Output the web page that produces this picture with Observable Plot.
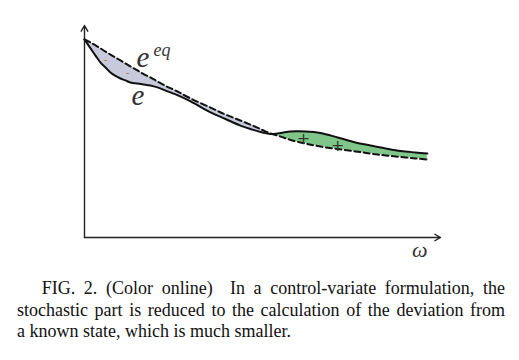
<!DOCTYPE html>
<html><head><meta charset="utf-8">
<script src="https://cdn.jsdelivr.net/npm/d3@7"></script>
<script src="https://cdn.jsdelivr.net/npm/@observablehq/plot@0.6"></script>
<style>
html,body{margin:0;padding:0;background:#fff;}
#wrap{position:relative;width:519px;height:360px;overflow:hidden;}
#chart svg{display:block;}
#cap{position:absolute;left:17px;top:278px;width:488px;font-family:"Liberation Serif","Times New Roman",serif;font-size:18px;line-height:21.7px;color:#111;}
#cap div.j{text-align:justify;text-align-last:justify;white-space:nowrap;}
#cap div.l{text-align:left;white-space:nowrap;}
</style></head><body>
<div id="wrap"><div id="chart"></div>
<div id="cap">
<div class="j" style="text-indent:24.7px;white-space:normal;">FIG. 2. (Color online)&nbsp; In a control-variate formulation, the</div>
<div class="j" style="white-space:normal;">stochastic part is reduced to the calculation of the deviation from</div>
<div class="l">a known state, which is much smaller.</div>
</div></div>
<script>
// frequency axis (arbitrary units)
const omega = [0, 0.17, 0.31, 0.45, 0.59, 0.73, 0.87, 1.01, 1.15, 1.29, 1.49, 1.66, 1.85, 2.05, 2.28, 2.56, 2.98, 3.54, 3.96, 4.38, 4.72, 5.00, 5.22, 5.51, 5.79, 6.21, 6.63, 7.11, 7.61, 8.03, 8.46, 8.88, 9.30, 9.63];
// equilibrium (known state), dashed
const eEq = [9.34, 9.20, 9.06, 8.92, 8.77, 8.63, 8.49, 8.35, 8.21, 8.07, 7.88, 7.71, 7.55, 7.36, 7.15, 6.93, 6.56, 6.13, 5.80, 5.52, 5.28, 5.07, 4.91, 4.76, 4.60, 4.43, 4.29, 4.17, 4.06, 3.96, 3.87, 3.80, 3.73, 3.68];
// actual state, solid
const eVal = [9.34, 8.92, 8.58, 8.25, 8.02, 7.78, 7.62, 7.50, 7.41, 7.31, 7.26, 7.22, 7.17, 7.08, 6.93, 6.75, 6.42, 5.90, 5.59, 5.28, 5.09, 4.95, 4.88, 4.93, 5.00, 5.00, 4.93, 4.72, 4.48, 4.34, 4.20, 4.08, 4.01, 3.96];
// sign glyphs inside the deviation regions
const minusMarks = [{x: 0.59, y: 8.35}, {x: 1.21, y: 7.75}];
const plusMarks = [{x: 6.15, y: 4.67}, {x: 7.11, y: 4.34}];
// axis extents
const xDomain = [0, 10];
const yDomain = [0, 10];

const data = omega.map((w, i) => ({w, eq: eEq[i], e: eVal[i]}));
const axes = [
  {x1: xDomain[0], y1: yDomain[0], x2: xDomain[1], y2: yDomain[0]},
  {x1: xDomain[0], y1: yDomain[0], x2: xDomain[0], y2: yDomain[1]}
];
const serif = "Liberation Serif, Times New Roman, serif";

const chart = Plot.plot({
  width: 519, height: 270,
  marginLeft: 84, marginRight: 79, marginTop: 25, marginBottom: 33,
  x: {domain: xDomain, axis: null},
  y: {domain: yDomain, axis: null},
  marks: [
    Plot.areaY(data, {x: "w", y1: "eq", y2: d => Math.min(d.e, d.eq), fill: "#c9c9dc", curve: "catmull-rom"}),
    Plot.areaY(data, {x: "w", y1: "eq", y2: d => Math.max(d.e, d.eq), fill: "#80c68a", curve: "catmull-rom"}),
    Plot.arrow(axes, {x1: "x1", y1: "y1", x2: "x2", y2: "y2", stroke: "#222", strokeWidth: 1.4, headLength: 7, headAngle: 60}),
    Plot.line(data, {x: "w", y: "e", stroke: "#111", strokeWidth: 2, curve: "catmull-rom"}),
    Plot.line(data, {x: "w", y: "eq", stroke: "#111", strokeWidth: 2, strokeDasharray: "6,3.5", curve: "catmull-rom"}),
    Plot.text(minusMarks, {x: "x", y: "y", text: () => "-", fontSize: 9, fill: "#a0622a", fontFamily: "DejaVu Sans"}),
    Plot.text(plusMarks, {x: "x", y: "y", text: () => "+", fontSize: 16, fill: "#2a3a2a", fontFamily: "DejaVu Sans"}),
    Plot.text([{x: 1.46, y: 8.02}], {x: "x", y: "y", text: () => "e", fontSize: 29, fontStyle: "italic", fontFamily: serif, textAnchor: "start", lineAnchor: "bottom", fill: "#333"}),
    Plot.text([{x: 1.94, y: 8.54}], {x: "x", y: "y", text: () => "eq", fontSize: 18, fontStyle: "italic", fontFamily: serif, textAnchor: "start", lineAnchor: "bottom", fill: "#333"}),
    Plot.text([{x: 1.32, y: 6.23}], {x: "x", y: "y", text: () => "e", fontSize: 29, fontStyle: "italic", fontFamily: serif, textAnchor: "start", lineAnchor: "bottom", fill: "#333"}),
    Plot.text([{x: 9.42, y: -0.94}], {x: "x", y: "y", text: () => "ω", fontSize: 22, fontStyle: "italic", fontFamily: serif, textAnchor: "middle", lineAnchor: "bottom", fill: "#333"})
  ]
});
document.getElementById("chart").appendChild(chart);
</script>
</body></html>
